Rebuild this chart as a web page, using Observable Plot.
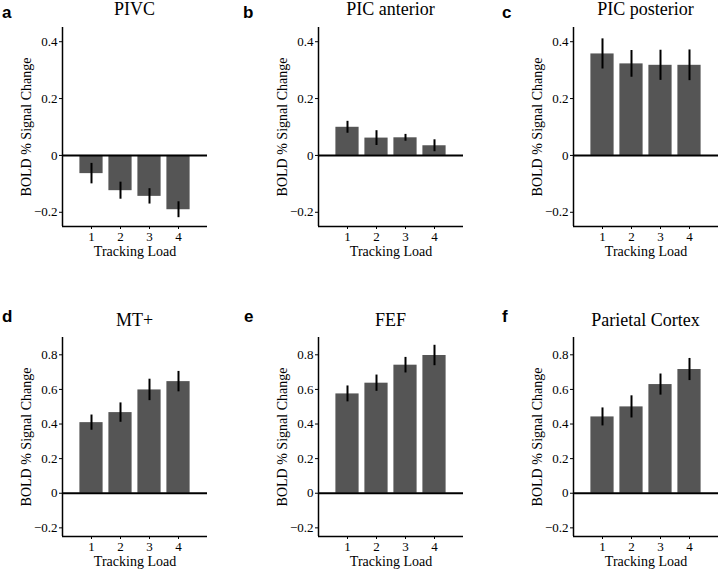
<!DOCTYPE html>
<html><head><meta charset="utf-8">
<script src="https://cdn.jsdelivr.net/npm/d3@7"></script>
<script src="https://cdn.jsdelivr.net/npm/@observablehq/plot@0.6"></script>
<style>
body{margin:0;background:#fff;overflow:hidden}
#root{position:relative;width:720px;height:569px;overflow:hidden}
.title{position:absolute;font-family:"Liberation Serif",serif;font-size:18px;line-height:18px;text-align:center;width:220px;color:#000;white-space:nowrap}
.letter{position:absolute;font-family:"Liberation Sans",sans-serif;font-weight:bold;font-size:17px;line-height:17px;color:#000}
#root svg text{font-family:"Liberation Serif",serif}
#root svg g[aria-label="x-axis tick label"] text, #root svg g[aria-label="y-axis tick label"] text{font-size:13px}
#root svg g[aria-label="x-axis label"] text, #root svg g[aria-label="y-axis label"] text{font-size:14px}
</style></head><body><div id="root"></div>
<script>
// ---- data ----
const loads = [1, 2, 3, 4];
const panelLetters = ["a", "b", "c", "d", "e", "f"];
const panelTitles = ["PIVC", "PIC anterior", "PIC posterior", "MT+", "FEF", "Parietal Cortex"];
const pivcMean = [-0.064, -0.124, -0.144, -0.191];
const pivcSE = [0.036, 0.030, 0.027, 0.028];
const picAntMean = [0.099, 0.061, 0.062, 0.034];
const picAntSE = [0.021, 0.026, 0.012, 0.021];
const picPostMean = [0.357, 0.322, 0.317, 0.317];
const picPostSE = [0.053, 0.047, 0.053, 0.054];
const mtMean = [0.408, 0.466, 0.597, 0.645];
const mtSE = [0.044, 0.056, 0.062, 0.059];
const fefMean = [0.574, 0.636, 0.740, 0.796];
const fefSE = [0.046, 0.047, 0.045, 0.059];
const parMean = [0.441, 0.499, 0.628, 0.715];
const parSE = [0.052, 0.064, 0.061, 0.064];
const topTicks = [-0.2, 0, 0.2, 0.4];
const bottomTicks = [-0.2, 0, 0.2, 0.4, 0.6, 0.8];
const topDomain = [-0.25, 0.45];
const bottomDomain = [-0.25, 0.9];
const xLabel = "Tracking Load";
const yLabel = "BOLD % Signal Change";

const means = [pivcMean, picAntMean, picPostMean, mtMean, fefMean, parMean];
const ses = [pivcSE, picAntSE, picPostSE, mtSE, fefSE, parSE];

// ---- layout ----
const colLeft = [0, 256, 511];
const rowTop = [0, 310];
const mL = 62, mT = 27, mB = 35, mR = 2, plotW = 145, plotH = 199;
const letterPos = [[2, 4], [243, 4], [502, 4], [2, 308], [244, 308], [502, 308]];
const titleTop = [0, 311];

const root = document.getElementById("root");
const fmt = d => d === 0 ? "0" : d3.format(".1f")(d);
for (let p = 0; p < 6; p++) {
  const row = p < 3 ? 0 : 1, col = p % 3;
  const domain = row === 0 ? topDomain : bottomDomain;
  const ticks = row === 0 ? topTicks : bottomTicks;
  const data = loads.map((l, i) => ({load: l, value: means[p][i], se: ses[p][i]}));
  const chart = Plot.plot({
    width: mL + plotW + mR,
    height: mT + plotH + mB,
    marginLeft: mL, marginRight: mR, marginTop: mT, marginBottom: mB,
    style: {fontFamily: "Liberation Serif, serif", fontSize: "13px", color: "#000", background: "transparent", overflow: "visible"},
    x: {domain: [0, 5], ticks: loads, tickSize: 3, tickPadding: 2, tickFormat: d => String(d),
        label: xLabel, labelAnchor: "center", labelOffset: 29, labelArrow: false},
    y: {domain, ticks, tickSize: 3, tickPadding: 2, tickFormat: fmt,
        label: yLabel, labelAnchor: "center", labelOffset: 41, labelArrow: false},
    marks: [
      Plot.rect(data, {x1: d => d.load - 0.4, x2: d => d.load + 0.4, y1: d => 0, y2: "value", fill: "#555555"}),
      Plot.ruleX(data, {x: "load", y1: d => d.value - d.se, y2: d => d.value + d.se, stroke: "#000", strokeWidth: 2}),
      Plot.ruleY([0], {stroke: "#000", strokeWidth: 2}),
      Plot.ruleX([0], {stroke: "#000", strokeWidth: 1.5}),
      Plot.ruleY([domain[0]], {stroke: "#000", strokeWidth: 1.5})
    ]
  });
  chart.style.position = "absolute";
  chart.style.left = colLeft[col] + "px";
  chart.style.top = rowTop[row] + "px";
  root.appendChild(chart);

  const t = document.createElement("div");
  t.className = "title";
  t.textContent = panelTitles[p];
  t.style.left = (colLeft[col] + mL + plotW / 2 - 110) + "px";
  t.style.top = titleTop[row] + "px";
  root.appendChild(t);

  const L = document.createElement("div");
  L.className = "letter";
  L.textContent = panelLetters[p];
  L.style.left = letterPos[p][0] + "px";
  L.style.top = letterPos[p][1] + "px";
  root.appendChild(L);
}
</script></body></html>
